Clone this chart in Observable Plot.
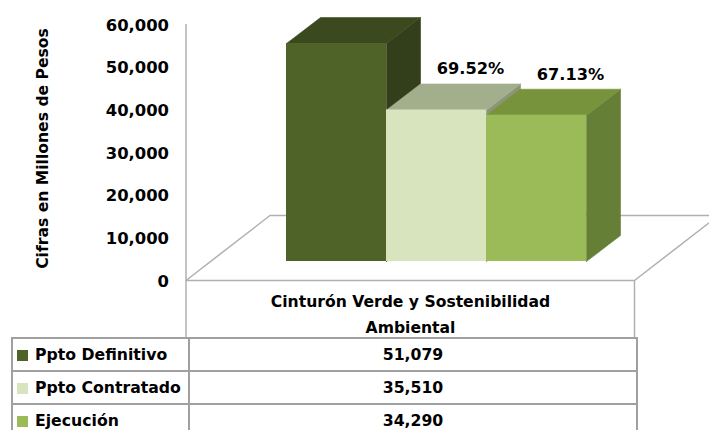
<!DOCTYPE html>
<html>
<head>
<meta charset="utf-8">
<script src="https://cdn.jsdelivr.net/npm/d3@7"></script>
<script src="https://cdn.jsdelivr.net/npm/@observablehq/plot@0.6"></script>
<style>
  html, body { margin: 0; padding: 0; background: #fff; overflow: hidden; }
  #chart svg { display: block; overflow: hidden; }
  table { border-collapse: collapse; table-layout: fixed; margin-left: 11px;
          font-family: "DejaVu Sans", sans-serif; font-weight: bold; color: #000; }
  td { border: 2px solid #a0a0a0; padding: 0; height: 31px; }
  td.lab { width: 171px; padding-left: 4px; font-size: 15.7px; white-space: nowrap; overflow: hidden; }
  td.val { width: 446px; text-align: center; font-size: 15.7px; }
  .sw { display: inline-block; width: 11px; height: 11px; margin-right: 7px; vertical-align: -1px; }
</style>
</head>
<body>
<div id="chart"></div>
<script>
// ---- data ----
const category = "Cinturón Verde y Sostenibilidad Ambiental";
const series = ["Ppto Definitivo", "Ppto Contratado", "Ejecución"];
const values = [51079, 35510, 34290];
const frontColors = ["#4f6228", "#d7e4bd", "#9bbb59"];
const topColors = ["#3b4a1e", "#a3ae8d", "#77933c"];
const sideColors = ["#323f1a", "#8c9677", "#667f36"];
const yTicks = [0, 10000, 20000, 30000, 40000, 50000, 60000];
const yTitle = "Cifras en Millones de Pesos";

// ---- layout ----
const yMax = 60000;
const X_RANGE = [261, 561];          // front-plane extent of the bar group
const Y_RANGE = [280, 24];
const pxX = (X_RANGE[1] - X_RANGE[0]) / series.length;
const pxY = (Y_RANGE[0] - Y_RANGE[1]) / yMax;
const ux = p => p / pxX, uy = p => p / pxY;
const FRONT = {dx: 25, dy: -19};     // bars sit back from the front plane
const DEPTH = {x: ux(34), y: uy(26)};
const FLOOR = {x: ux(84), y: uy(65)};
const floorL = -0.755, floorR = 3.73;
const headerBottom = -uy(57);
const FONT = "DejaVu Sans";
const GRID = "#b0b0b0";

const bars = series.map((s, i) => ({s, i, v: values[i]}));
const pct = bars.slice(1).map(d => ({...d, label: (d.v / values[0] * 100).toFixed(2) + "%"}));

const marks = [];
// floor
const floorPts = [[floorL, 0], [floorR, 0], [floorR + FLOOR.x, FLOOR.y], [floorL + FLOOR.x, FLOOR.y], [floorL, 0]];
marks.push(Plot.line(floorPts, {x: d => d[0], y: d => d[1], fill: "white", stroke: GRID, strokeWidth: 1.5, strokeLinejoin: "miter"}));
// left wall front edge
marks.push(Plot.ruleX([floorL], {y1: 0, y2: yMax, stroke: GRID, strokeWidth: 1.5}));
// category header cell borders
marks.push(Plot.ruleX([floorL, floorR], {y1: 0, y2: headerBottom, stroke: GRID, strokeWidth: 1.5}));

// 3D bars (painter's order, left to right)
bars.forEach(b => {
  const x1 = b.i, x2 = b.i + 1, v = b.v;
  const side = [[x2, 0], [x2, v], [x2 + DEPTH.x, v + DEPTH.y], [x2 + DEPTH.x, DEPTH.y], [x2, 0]];
  const top = [[x1, v], [x2, v], [x2 + DEPTH.x, v + DEPTH.y], [x1 + DEPTH.x, v + DEPTH.y], [x1, v]];
  marks.push(Plot.line(side, {x: d => d[0], y: d => d[1], fill: sideColors[b.i], stroke: sideColors[b.i], strokeWidth: 0.6, ...FRONT}));
  marks.push(Plot.line(top, {x: d => d[0], y: d => d[1], fill: topColors[b.i], stroke: topColors[b.i], strokeWidth: 0.6, ...FRONT}));
  marks.push(Plot.rect([b], {x1: d => d.i, x2: d => d.i + 1, y1: 0, y2: d => d.v, fill: frontColors[b.i], ...FRONT}));
});

// percentage labels
marks.push(Plot.text(pct, {
  x: d => d.i + 0.5, y: d => d.v, text: d => d.label,
  dx: FRONT.dx + 34, dy: FRONT.dy - 26 - 9.5, lineAnchor: "bottom",
  fontSize: 16.2, fontWeight: "bold", fontFamily: FONT, fill: "#000"
}));

// y tick labels
marks.push(Plot.text(yTicks, {
  x: floorL, y: d => d, text: d => d3.format(",")(d),
  textAnchor: "end", dx: -17, dy: 1,
  fontSize: 16.4, fontWeight: "bold", fontFamily: FONT, fill: "#000"
}));

// y title
marks.push(Plot.text([yTitle], {
  x: floorL, y: yMax / 2, text: d => d, rotate: -90,
  dx: -143, dy: -4,
  fontSize: 15.6, fontWeight: "bold", fontFamily: FONT, fill: "#000"
}));

// category label (header of data table)
marks.push(Plot.text([category], {
  x: series.length / 2, y: 0, text: d => d.replace(/ (\S+)$/, "\n$1"),
  lineAnchor: "top", lineHeight: 1.68, dy: 8, dx: -1,
  fontSize: 15.6, fontWeight: "bold", fontFamily: FONT, fill: "#000"
}));

const chart = Plot.plot({
  width: 709, height: 337, margin: 0,
  x: {type: "linear", domain: [0, series.length], range: X_RANGE, axis: null},
  y: {type: "linear", domain: [0, yMax], range: Y_RANGE, axis: null},
  style: {background: "white", overflow: "hidden", fontFamily: FONT},
  marks
});
document.getElementById("chart").appendChild(chart);

// data table
const table = d3.select("body").append("table");
bars.forEach(b => {
  const tr = table.append("tr");
  const td1 = tr.append("td").attr("class", "lab");
  td1.append("span").attr("class", "sw").style("background", frontColors[b.i]);
  td1.append("span").text(b.s);
  tr.append("td").attr("class", "val").text(d3.format(",")(b.v));
});
</script>
</body>
</html>
